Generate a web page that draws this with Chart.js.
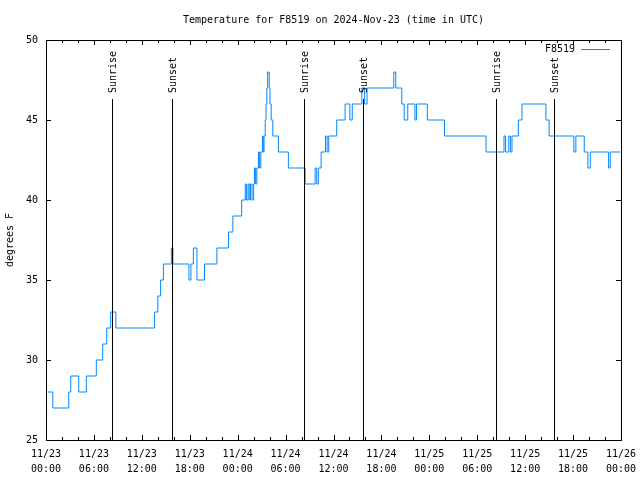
<!DOCTYPE html>
<html>
<head>
<meta charset="utf-8">
<script src="https://cdn.jsdelivr.net/npm/chart.js@4.4.1/dist/chart.umd.min.js"></script>
<style>
  body { margin: 0; background: #fff; }
  canvas { display: block; }
</style>
</head>
<body>
<canvas id="tempChart" width="640" height="480"></canvas>
<script>
// Hours since 11/23 00:00 UTC where the reading changes, and the new reading (F)
const hours = [0.25, 0.85, 2.85, 3.1, 4.1, 5.05, 6.3, 7.1, 7.6, 8.1, 8.75,
    13.6, 14.0, 14.35, 14.7, 15.7, 15.9, 17.9, 18.15, 18.45, 18.9, 19.85, 21.4,
    22.85, 23.4, 24.5, 24.95, 25.1, 25.3, 25.45, 25.6, 25.8, 26.0, 26.1, 26.25,
    26.4, 26.6, 26.75, 26.9, 27.1, 27.2, 27.3, 27.45, 27.55, 27.65, 27.75, 27.95,
    28.05, 28.2, 28.4, 29.1, 30.35, 32.45, 33.7, 33.9, 34.1, 34.45, 35.0, 35.2,
    35.4, 36.4, 37.45, 38.05, 38.35, 39.55, 39.9, 40.2, 43.55, 43.8, 44.55, 44.85,
    45.3, 46.2, 46.4, 47.75, 49.9, 55.1, 57.35, 57.55, 57.95, 58.15, 58.35, 59.15,
    59.6, 62.6, 63.0, 66.1, 66.35, 67.4, 67.85, 68.15, 70.45, 70.65, 71.9];
const temps = [28, 27, 28, 29, 28, 29, 30, 31, 32, 33, 32,
    33, 34, 35, 36, 37, 36, 35, 36, 37, 35, 36, 37,
    38, 39, 40, 41, 40, 41, 40, 41, 40, 41, 42, 41,
    42, 43, 42, 43, 44, 43, 44, 45, 46, 47, 48, 47,
    46, 45, 44, 43, 42, 41, 42, 41, 42, 43, 44, 43,
    44, 45, 46, 45, 46, 47, 46, 47, 48, 47, 46, 45,
    46, 45, 46, 45, 44, 43, 44, 43, 44, 43, 44, 45,
    46, 45, 44, 43, 44, 43, 42, 43, 42, 43, 43];

// Sunrise / sunset markers (hours since start)
const sunHours = [8.3, 15.82, 32.31, 39.73, 56.39, 63.65];
const sunLabels = ['Sunrise', 'Sunset', 'Sunrise', 'Sunset', 'Sunrise', 'Sunset'];

const yTicks = [25, 30, 35, 40, 45, 50];
const days = ['11/23', '11/24', '11/25', '11/26'];

const monoFont = '"DejaVu Sans Mono", "Liberation Mono", monospace';
const lineColor = '#0088ff';

// frame, inward ticks, sun lines and the key, drawn like gnuplot does
const gnuplotDecor = {
    id: 'gnuplotDecor',
    afterDatasetsDraw(chart) {
        const ctx = chart.ctx;
        const area = chart.chartArea;
        const xs = chart.scales.x;
        const ys = chart.scales.y;
        ctx.save();
        ctx.strokeStyle = '#000';
        ctx.lineWidth = 1;

        // sunrise / sunset
        ctx.font = '10px ' + monoFont;
        ctx.fillStyle = '#000';
        sunHours.forEach((h, i) => {
            const x = Math.round(xs.getPixelForValue(h)) + 0.5;
            ctx.beginPath();
            ctx.moveTo(x, area.top + 59);
            ctx.lineTo(x, area.bottom);
            ctx.stroke();
            ctx.save();
            ctx.translate(x + 1, area.top + 53);
            ctx.rotate(-Math.PI / 2);
            ctx.textAlign = 'left';
            ctx.textBaseline = 'middle';
            ctx.fillText(sunLabels[i], 0, 0);
            ctx.restore();
        });

        // border
        ctx.strokeRect(Math.round(area.left) + 0.5, Math.round(area.top) + 0.5,
            Math.round(area.right - area.left), Math.round(area.bottom - area.top));

        // x ticks every 2 hours, majors every 6
        ctx.beginPath();
        for (let h = 0; h <= 72; h += 2) {
            const x = Math.round(xs.getPixelForValue(h)) + 0.5;
            const len = h % 6 === 0 ? 5 : 3;
            ctx.moveTo(x, area.bottom);
            ctx.lineTo(x, area.bottom - len);
            ctx.moveTo(x, area.top);
            ctx.lineTo(x, area.top + len);
        }
        yTicks.forEach(v => {
            const y = Math.round(ys.getPixelForValue(v)) + 0.5;
            ctx.moveTo(area.left, y);
            ctx.lineTo(area.left + 5, y);
            ctx.moveTo(area.right, y);
            ctx.lineTo(area.right - 5, y);
        });
        ctx.stroke();

        // key
        ctx.font = '10px ' + monoFont;
        ctx.textAlign = 'right';
        ctx.textBaseline = 'middle';
        ctx.fillText(chart.data.datasets[0].label, area.left + 529, area.top + 9);
        ctx.strokeStyle = lineColor;
        ctx.beginPath();
        ctx.moveTo(area.left + 535, area.top + 9.5);
        ctx.lineTo(area.left + 564, area.top + 9.5);
        ctx.stroke();
        ctx.restore();
    }
};

const ctx = document.getElementById('tempChart').getContext('2d');
const tempChart = new Chart(ctx, {
    type: 'line',
    data: {
        datasets: [{
            label: 'F8519',
            data: hours.map((h, i) => ({ x: h, y: temps[i] })),
            borderColor: lineColor,
            borderWidth: 1,
            pointRadius: 0,
            stepped: true,
            fill: false
        }]
    },
    options: {
        responsive: false,
        animation: false,
        layout: { padding: { left: 0, right: 19, top: 0, bottom: 0 } },
        plugins: {
            legend: { display: false },
            tooltip: { enabled: false },
            title: {
                display: true,
                fullSize: false,
                text: 'Temperature for F8519 on 2024-Nov-23 (time in UTC)',
                color: '#000',
                font: { family: monoFont, size: 10, weight: 'normal', lineHeight: 1.2 },
                padding: { top: 14, bottom: 14 }
            }
        },
        scales: {
            x: {
                type: 'linear',
                min: 0,
                max: 72,
                grid: { display: false, drawTicks: false },
                border: { display: false },
                afterFit: s => {
                    s.height = 40;
                    s.paddingLeft = 0;
                    s.paddingRight = 0;
                },
                ticks: {
                    stepSize: 6,
                    autoSkip: false,
                    maxRotation: 0,
                    padding: 7,
                    color: '#000',
                    font: { family: monoFont, size: 10, lineHeight: 1.5 },
                    callback: v => {
                        const day = days[Math.floor(v / 24)];
                        const hh = String(v % 24).padStart(2, '0');
                        return [day, hh + ':00'];
                    }
                }
            },
            y: {
                min: 25,
                max: 50,
                grid: { display: false, drawTicks: false },
                border: { display: false },
                afterFit: s => { s.width = 46; },
                afterBuildTicks: s => { s.ticks = yTicks.map(v => ({ value: v })); },
                ticks: {
                    padding: 8,
                    color: '#000',
                    font: { family: monoFont, size: 10 }
                },
                title: {
                    display: true,
                    text: 'degrees F',
                    color: '#000',
                    font: { family: monoFont, size: 10 },
                    padding: { top: 4, bottom: 0 }
                }
            }
        }
    },
    plugins: [gnuplotDecor]
});
</script>
</body>
</html>
